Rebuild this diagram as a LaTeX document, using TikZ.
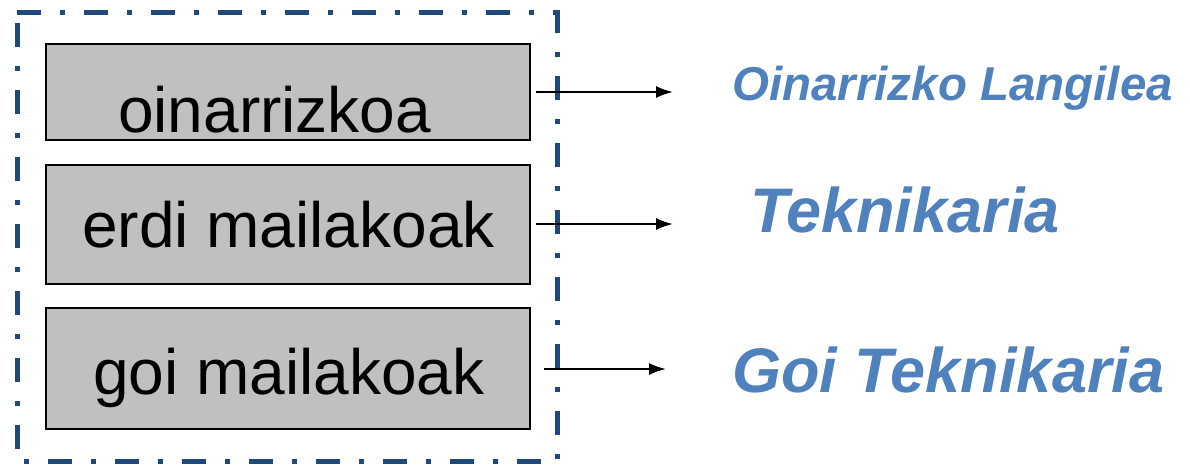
\documentclass[tikz,border=0pt]{standalone}
\usepackage{fontspec}
\setmainfont{Liberation Sans}
\usetikzlibrary{arrows.meta}
\definecolor{frameblue}{RGB}{31,73,125}
\definecolor{labelblue}{RGB}{79,129,189}
\definecolor{boxgray}{RGB}{192,192,192}
\begin{document}
\begin{tikzpicture}[x=1pt,y=-1pt,
  levelbox/.style={draw=black, line width=2pt, fill=boxgray, inner sep=0pt},
  leveltext/.style={anchor=base west, inner sep=0pt, font=\fontsize{64}{70}\selectfont},
  outtext/.style={anchor=base west, inner sep=0pt, text=labelblue},
  conn/.style={line width=2pt, -{Latex[length=17pt,width=12pt]}},
  frame/.style={draw=frameblue, line width=5pt, dash pattern=on 24pt off 19pt on 5pt off 19pt}]
\useasboundingbox (0,0) rectangle (1190,466);
% dash-dot frame
\draw[frame] (17,12.5) -- (557,12.5) -- (557,461) -- (17,461) -- cycle;
% boxes
\path[levelbox] (46,44) rectangle (530,140);
\path[levelbox] (46,165) rectangle (530,284);
\path[levelbox] (46,308) rectangle (530,429);
\node[leveltext] (t1) at (118,132) {oinarrizkoa};
\node[leveltext] (t2) at (82,247) {erdi mailakoak};
\node[leveltext] (t3) at (93,394) {goi mailakoak};
% arrows
\coordinate (a1s) at (536,92);  \coordinate (a1e) at (673,92);
\coordinate (a2s) at (536,224); \coordinate (a2e) at (673,224);
\coordinate (a3s) at (544,369); \coordinate (a3e) at (666,369);
\draw[conn] (a1s) -- (a1e);
\draw[conn] (a2s) -- (a2e);
\draw[conn] (a3s) -- (a3e);
% labels
\node[outtext, font=\fontsize{47.5}{52}\selectfont\bfseries\itshape] (l1) at (732,100) {Oinarrizko Langilea};
\node[outtext, font=\fontsize{63}{70}\selectfont\bfseries\itshape] (l2) at (750,232) {Teknikaria};
\node[outtext, font=\fontsize{63}{70}\selectfont\bfseries\itshape] (l3) at (732,392) {Goi Teknikaria};
\end{tikzpicture}
\end{document}
